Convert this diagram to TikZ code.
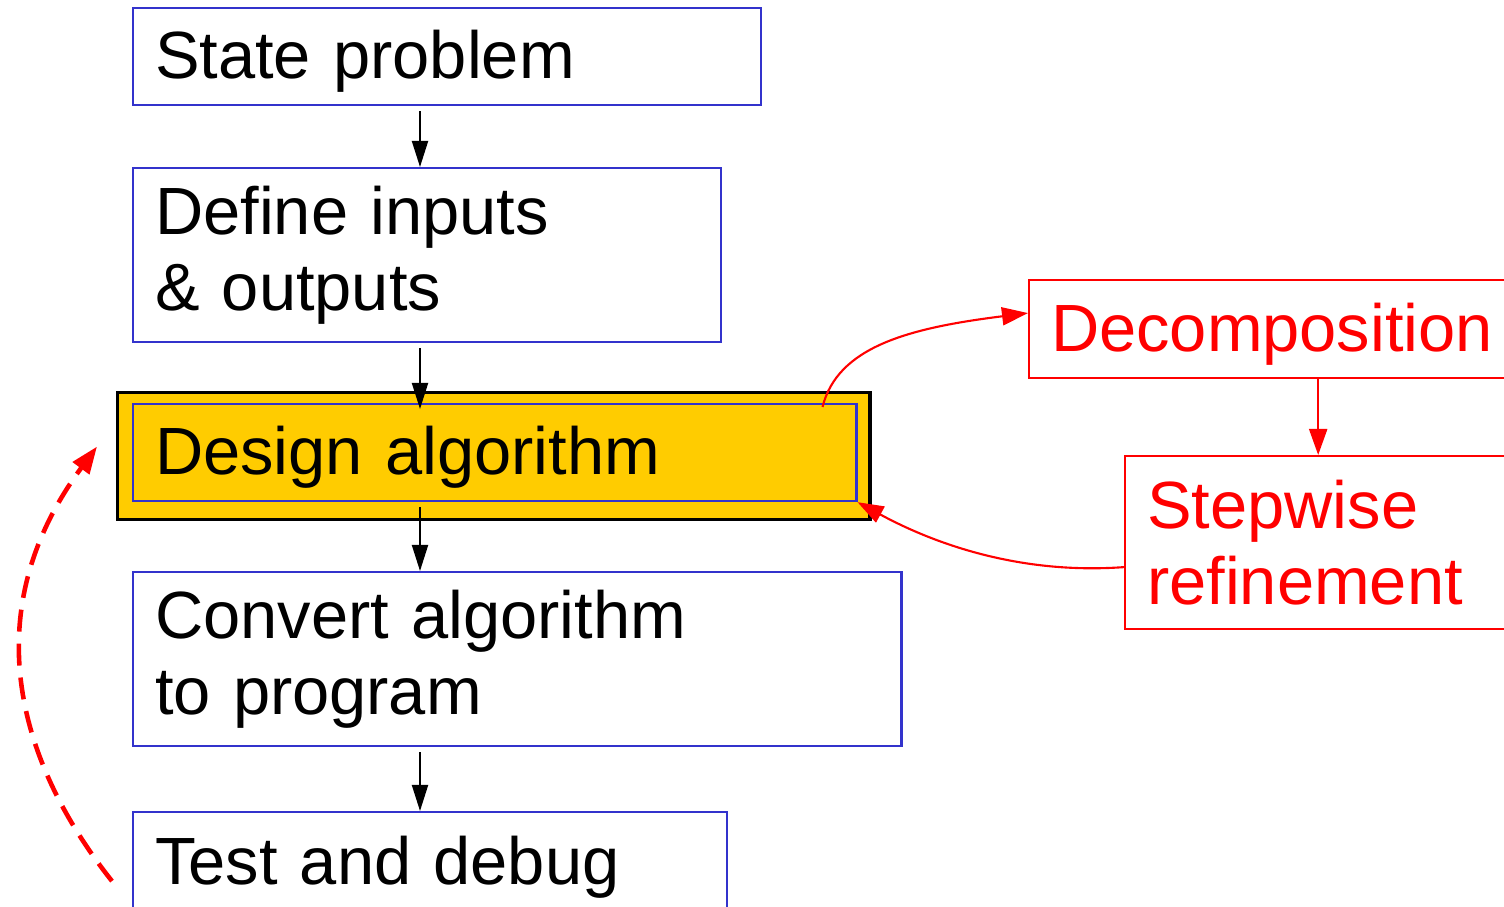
\documentclass[tikz,border=0pt]{standalone}
\usepackage{fontspec}
\setmainfont{Liberation Sans}
\usetikzlibrary{arrows.meta}
\definecolor{boxblue}{HTML}{3333CC}
\definecolor{gold}{HTML}{FFCC00}
\hyphenpenalty=10000
\tikzset{
  stepbox/.style={draw=boxblue, line width=0.6pt, anchor=north west, align=left,
    inner xsep=0.22cm, inner ysep=0pt, font=\fontsize{19}{21.8}\selectfont},
  oneline/.style={text height=0.56cm, text depth=0.12cm},
  redbox/.style={stepbox, draw=red, text=red},
  flow/.style={-{Triangle[length=0.26cm,width=0.16cm]}, line width=0.55pt, shorten <=0.05cm},
  redflow/.style={-{Triangle[length=0.26cm,width=0.18cm]}, line width=0.6pt, draw=red},
}
\begin{document}
\begin{tikzpicture}[x=0.01cm,y=-0.01cm]
\useasboundingbox (0,0) rectangle (1504,907);
\clip (0,0) rectangle (1504,907);
% main column
\node[stepbox, oneline, text width=5.84cm, minimum height=0.97cm] (state) at (132,7) {State problem};
\node[stepbox, text width=5.44cm, minimum height=1.74cm] (define) at (132,167) {Define inputs\\\& outputs};
\node[draw, fill=gold, line width=0.9pt, anchor=north west, minimum width=7.52cm, minimum height=1.27cm] (outer) at (116,391) {};
\node[stepbox, oneline, text width=6.79cm, minimum height=0.97cm] (inner) at (132,403) {Design algorithm};
\node[stepbox, text width=7.24cm, minimum height=1.74cm] (convert) at (132,571) {Convert algorithm\\to program};
\node[stepbox, oneline, text width=5.50cm, minimum height=1.00cm] (test) at (132,811) {Test and debug};
% side boxes
\node[redbox, oneline, text width=4.38cm, minimum height=0.98cm] (decomp) at (1028,279) {Decomposition};
\node[redbox, text width=3.42cm, minimum height=1.73cm] (step) at (1124,455) {Stepwise\\refinement};
% arrows
\coordinate (axis) at (420,0);
\draw[flow] (state.south -| axis) -- (define.north -| axis);
\draw[flow, shorten >=-0.06cm] (define.south -| axis) -- (inner.north -| axis);
\draw[flow] (inner.south -| axis) -- (convert.north -| axis);
\draw[flow] (convert.south -| axis) -- (test.north -| axis);
\draw[redflow] (decomp.south -| step.north) -- (step.north);
\draw[redflow] ([xshift=-0.35cm,yshift=-0.04cm]inner.north east) .. controls +(15,-60) and +(-120,15) .. ([yshift=0.16cm]decomp.west);
\draw[redflow] ([yshift=-0.245cm]step.west) .. controls +(-110,8) and +(70,38) .. (inner.south east);
\draw[red, line width=1.3pt, dash pattern=on 0.22cm off 0.12cm, -{Triangle[length=0.27cm,width=0.2cm]}]
  ([xshift=-0.2cm,yshift=-0.19cm]test.west) .. controls +(-95,-120) and +(-122,165) .. ([xshift=-0.19cm,yshift=0.095cm]outer.west);
\end{tikzpicture}
\end{document}
